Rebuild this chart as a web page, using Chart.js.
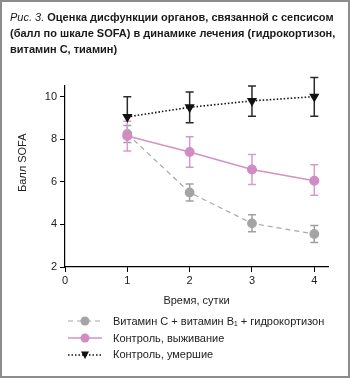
<!DOCTYPE html>
<html>
<head>
<meta charset="utf-8">
<script src="https://cdn.jsdelivr.net/npm/chart.js@4/dist/chart.umd.min.js"></script>
<style>
  body { margin: 0; background: #fff; }
  #wrap { position: relative; width: 350px; height: 378px; font-family: "Liberation Sans", Arial, sans-serif; color: #222; }
  #frame { position: absolute; left: 0; top: 0; width: 350px; height: 378px; box-sizing: border-box; border: 2px solid #8c8c8c; pointer-events: none; }
  canvas { position: absolute; left: 0; top: 0; }
  #title { position: absolute; left: 10px; top: 9px; font-size: 11px; line-height: 16px; font-weight: bold; color: #1a1a1a; white-space: nowrap; }
  #title i { font-weight: normal; }
  #legend { position: absolute; left: 68px; top: 313px; font-size: 11px; line-height: 16.7px; }
  #legend div { display: flex; align-items: center; height: 16.7px; }
  #legend svg { width: 34px; height: 12px; margin-right: 11px; }
</style>
</head>
<body>
<div id="wrap">
  <canvas id="sofaChart" width="350" height="378"></canvas>
  <div id="title"><i>Рис. 3.</i> Оценка дисфункции органов, связанной с сепсисом<br>(балл по шкале SOFA) в динамике лечения (гидрокортизон,<br>витамин С, тиамин)</div>
  <div id="legend"></div>
  <div id="frame"></div>
</div>
<script>
// Данные
const days = [1, 2, 3, 4];
const xTicks = [0, 1, 2, 3, 4];
const yTicks = [2, 4, 6, 8, 10];

const vitC = [8.25, 5.5, 4.05, 3.55];
const vitCLo = [0.4, 0.4, 0.4, 0.4];
const vitCHi = [0.4, 0.4, 0.4, 0.4];

const survived = [8.15, 7.4, 6.58, 6.05];
const survivedLo = [0.7, 0.72, 0.7, 0.68];
const survivedHi = [0.7, 0.72, 0.7, 0.75];

const died = [9.05, 9.5, 9.8, 10.0];
const diedLo = [0, 0.72, 0.72, 0.92];
const diedHi = [0.95, 0.72, 0.7, 0.9];

const labels = ['Витамин С + витамин B₁ + гидрокортизон', 'Контроль, выживание', 'Контроль, умершие'];

const toPoints = (ys) => days.map((d, i) => ({ x: d, y: ys[i] }));

// Планки погрешностей рисуются перед каждым набором данных
const errorBars = {
  id: 'errorBars',
  beforeDatasetDraw(chart, args) {
    const ds = chart.data.datasets[args.index];
    if (!ds.errLo) return;
    const ctx = chart.ctx;
    const xs = chart.scales.x, ys = chart.scales.y;
    ctx.save();
    ctx.strokeStyle = ds.errColor;
    ctx.lineWidth = 1.5;
    ds.data.forEach((p, i) => {
      const px = xs.getPixelForValue(p.x);
      const top = ys.getPixelForValue(p.y + ds.errHi[i]);
      const bot = ys.getPixelForValue(p.y - ds.errLo[i]);
      ctx.beginPath();
      ctx.moveTo(px, top); ctx.lineTo(px, bot);
      ctx.moveTo(px - 4, top); ctx.lineTo(px + 4, top);
      if (ds.errLo[i] > 0) { ctx.moveTo(px - 4, bot); ctx.lineTo(px + 4, bot); }
      ctx.stroke();
    });
    ctx.restore();
  }
};

const ctx = document.getElementById('sofaChart').getContext('2d');
const sofaChart = new Chart(ctx, {
  type: 'line',
  data: {
    datasets: [{
      label: labels[0],
      data: toPoints(vitC),
      errLo: vitCLo, errHi: vitCHi, errColor: '#a0a0a0',
      borderColor: '#a8a8a8', borderWidth: 1.2, borderDash: [5, 4],
      pointBackgroundColor: '#a4a4a4', pointBorderColor: '#a4a4a4', pointRadius: 4.3,
      order: 3
    }, {
      label: labels[1],
      data: toPoints(survived),
      errLo: survivedLo, errHi: survivedHi, errColor: '#d79bcb',
      borderColor: '#d590c6', borderWidth: 1.5,
      pointBackgroundColor: '#d28bc3', pointBorderColor: '#d28bc3', pointRadius: 4.3,
      order: 2
    }, {
      label: labels[2],
      data: toPoints(died),
      errLo: diedLo, errHi: diedHi, errColor: '#2a2a2a',
      borderColor: '#111', borderWidth: 1.6, borderDash: [1.5, 2],
      pointStyle: 'triangle', pointRotation: 180, pointRadius: 4.3,
      pointBackgroundColor: '#111', pointBorderColor: '#111',
      order: 1
    }]
  },
  options: {
    responsive: false,
    animation: false,
    layout: { padding: { left: 0, right: 22, top: 86, bottom: 68 } },
    plugins: { legend: { display: false }, tooltip: { enabled: false } },
    scales: {
      x: {
        type: 'linear', min: 0, max: 4.22,
        afterBuildTicks: (s) => { s.ticks = xTicks.map(v => ({ value: v })); },
        afterFit: (s) => { s.height = 43; },
        grid: { drawOnChartArea: false, tickLength: 5, color: '#000' },
        border: { color: '#000', width: 1.2 },
        ticks: { color: '#222', font: { family: 'Liberation Sans', size: 11 }, padding: 2 },
        title: { display: true, text: 'Время, сутки', color: '#222', font: { family: 'Liberation Sans', size: 11 }, padding: { bottom: 2 } }
      },
      y: {
        type: 'linear', min: 2, max: 10.5,
        afterBuildTicks: (s) => { s.ticks = yTicks.map(v => ({ value: v })); },
        afterFit: (s) => { s.width = 65; },
        grid: { drawOnChartArea: false, tickLength: 5, color: '#000' },
        border: { color: '#000', width: 1.2 },
        ticks: { color: '#222', font: { family: 'Liberation Sans', size: 11 }, padding: 3 },
        // ведущие пробелы сдвигают подпись вверх, как в оригинале
        title: { display: true, text: '         Балл SOFA', color: '#222', font: { family: 'Liberation Sans', size: 11 }, padding: { top: 16 } }
      }
    }
  },
  plugins: [errorBars]
});

// Легенда
const legendSymbols = [
  '<line x1="0" y1="6" x2="34" y2="6" stroke="#a8a8a8" stroke-width="1.2" stroke-dasharray="5,4"/><circle cx="17" cy="6" r="4.5" fill="#a4a4a4"/>',
  '<line x1="0" y1="6" x2="34" y2="6" stroke="#d590c6" stroke-width="1.5"/><circle cx="17" cy="6" r="4.5" fill="#d28bc3"/>',
  '<line x1="0" y1="6" x2="34" y2="6" stroke="#111" stroke-width="1.4" stroke-dasharray="1.5,2"/><polygon points="13,2.5 21,2.5 17,10" fill="#111"/>'
];
document.getElementById('legend').innerHTML = labels.map((t, i) =>
  '<div><svg viewBox="0 0 34 12">' + legendSymbols[i] + '</svg><span>' + t + '</span></div>').join('');
</script>
</body>
</html>
